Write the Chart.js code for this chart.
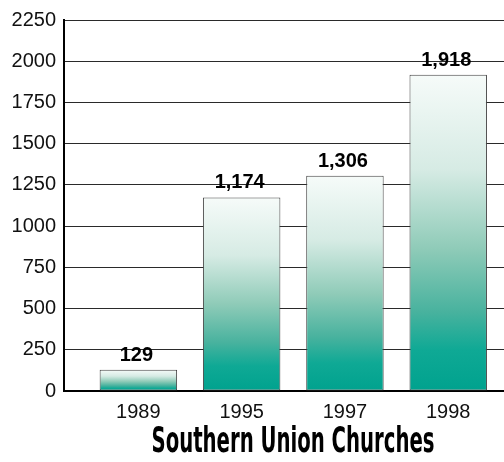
<!DOCTYPE html>
<html>
<head>
<meta charset="utf-8">
<script src="https://cdn.jsdelivr.net/npm/chart.js@4.4.0/dist/chart.umd.min.js"></script>
<style>
  html, body { margin: 0; padding: 0; background: #fff; }
  #wrap { width: 504px; height: 462px; position: relative; }
</style>
</head>
<body>
<div id="wrap"><canvas id="chart"></canvas></div>
<script>
// values
const years = ['1989', '1995', '1997', '1998'];
const churches = [129, 1174, 1306, 1918];
const yTicks = [0, 250, 500, 750, 1000, 1250, 1500, 1750, 2000, 2250];
const chartTitle = 'Southern Union Churches';

// gradient per bar, white at the top to teal at the bottom
const barFill = (ctx) => {
  const chart = ctx.chart;
  const yScale = chart.scales && chart.scales.y;
  if (!chart.chartArea || !yScale || ctx.type !== 'data') return '#00a38f';
  const top = yScale.getPixelForValue(churches[ctx.dataIndex]);
  const bottom = yScale.getPixelForValue(0);
  if (!isFinite(top) || !isFinite(bottom) || bottom - top < 1) return '#00a38f';
  const g = chart.ctx.createLinearGradient(0, top, 0, bottom);
  g.addColorStop(0, '#f6fbf9');
  g.addColorStop(0.3, '#d6ebe4');
  g.addColorStop(0.55, '#8fcbb8');
  g.addColorStop(0.75, '#48b29e');
  g.addColorStop(0.87, '#0fa995');
  g.addColorStop(1, '#00a28e');
  return g;
};

// value labels above the bars
const valueLabels = {
  id: 'valueLabels',
  afterDatasetsDraw(chart) {
    const ctx = chart.ctx;
    const meta = chart.getDatasetMeta(0);
    ctx.save();
    ctx.font = 'bold 20px "Liberation Sans", Arial, sans-serif';
    ctx.fillStyle = '#000';
    ctx.textAlign = 'center';
    ctx.textBaseline = 'alphabetic';
    meta.data.forEach((bar, i) => {
      ctx.fillText(churches[i].toLocaleString('en-US'), bar.x - 2, bar.y - 9);
    });
    ctx.restore();
  }
};

// condensed title under the axis
const bottomTitle = {
  id: 'bottomTitle',
  afterDraw(chart) {
    const ctx = chart.ctx;
    ctx.save();
    ctx.font = 'bold 35px "Liberation Sans Narrow", "DejaVu Sans Condensed", sans-serif';
    ctx.fillStyle = '#000';
    ctx.textAlign = 'center';
    ctx.textBaseline = 'alphabetic';
    const w = ctx.measureText(chartTitle).width;
    ctx.translate(293, 452);
    ctx.scale(283 / w, 1);
    ctx.fillText(chartTitle, 0, 0);
    ctx.restore();
  }
};

new Chart(document.getElementById('chart'), {
  type: 'bar',
  data: {
    datasets: [{
      data: churches.map((v, i) => ({ x: i, y: v })),
      backgroundColor: barFill,
      borderColor: '#444',
      borderWidth: 1,
      borderSkipped: false,
      barPercentage: 0.75,
      categoryPercentage: 1
    }]
  },
  options: {
    responsive: true,
    maintainAspectRatio: false,
    animation: false,
    layout: { padding: { top: 15, right: 0, bottom: 0, left: 0 } },
    plugins: {
      legend: { display: false },
      tooltip: { enabled: false }
    },
    scales: {
      x: {
        type: 'linear',
        offset: false,
        min: -0.72,
        max: 3.54,
        afterBuildTicks: (scale) => {
          scale.ticks = years.map((y, i) => ({ value: i }));
        },
        afterFit: (scale) => { scale.height = 71; },
        grid: { display: false },
        border: { display: true, color: '#000', width: 2 },
        ticks: {
          callback: (v) => years[v] ?? '',
          color: '#111',
          padding: 1,
          font: { family: '"Liberation Sans", Arial, sans-serif', size: 20 }
        }
      },
      y: {
        min: 0,
        max: 2250,
        afterBuildTicks: (scale) => {
          scale.ticks = yTicks.map((v) => ({ value: v }));
        },
        afterFit: (scale) => { scale.width = 64; },
        grid: { color: '#2a2a2a', lineWidth: 1, drawTicks: false },
        border: { display: true, color: '#000', width: 2 },
        ticks: {
          callback: (v) => String(v),
          color: '#111',
          padding: 8,
          font: { family: '"Liberation Sans", Arial, sans-serif', size: 20 }
        }
      }
    }
  },
  plugins: [valueLabels, bottomTitle]
});
</script>
</body>
</html>
